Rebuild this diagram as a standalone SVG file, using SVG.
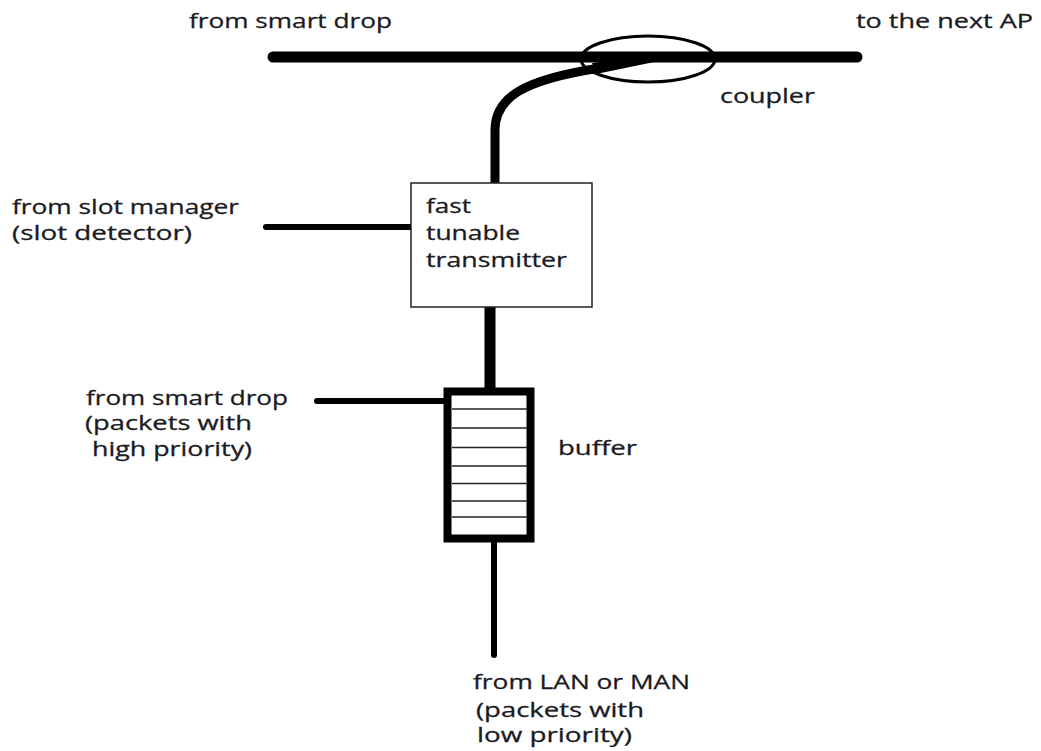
<svg xmlns="http://www.w3.org/2000/svg" width="1041" height="751" viewBox="0 0 1041 751">
  <style>
    .lbl { font-family: "Open Sans", "Noto Sans", "DejaVu Sans", sans-serif; font-size: 20.5px; fill: #1a1a22; stroke: #1a1a22; stroke-width: 0.3; }
    .thick { stroke: #000; fill: none; stroke-linecap: round; }
    .box { fill: #fff; stroke: #222; stroke-width: 1.5; }
    .slot { stroke: #222; stroke-width: 1.6; }
  </style>
  <rect width="1041" height="751" fill="#fff"/>

  <!-- connectors -->
  <g id="connectors">
    <!-- main fibre -->
    <line class="thick" x1="273" y1="57" x2="857" y2="57" stroke-width="11"/>
    <!-- drop fibre from transmitter into the coupler -->
    <path class="thick" d="M495 184 L495 130 C495 98 522 80 600 68" stroke-width="9" stroke-linecap="butt"/>
    <polygon points="592,63 596,74 664,60 664,54" fill="#000"/>
    <!-- slot manager input -->
    <line class="thick" x1="266" y1="227" x2="413" y2="227" stroke-width="6"/>
    <!-- transmitter to buffer -->
    <line class="thick" x1="490" y1="307" x2="490" y2="390" stroke-width="11" stroke-linecap="butt"/>
    <!-- high priority input -->
    <line class="thick" x1="317" y1="401" x2="445" y2="401" stroke-width="6"/>
    <!-- LAN/MAN input -->
    <line class="thick" x1="494" y1="540" x2="494" y2="655" stroke-width="6" stroke-linecap="butt"/>
  </g>

  <g id="coupler">
    <ellipse cx="648" cy="59" rx="67" ry="23" fill="none" stroke="#000" stroke-width="3"/>
    <text class="lbl" x="720" y="103" textLength="95" lengthAdjust="spacingAndGlyphs">coupler</text>
  </g>

  <g id="transmitter">
    <rect class="box" x="411" y="183" width="181" height="124"/>
    <text class="lbl" x="426" y="213" textLength="45" lengthAdjust="spacingAndGlyphs">fast</text>
    <text class="lbl" x="426" y="240" textLength="94" lengthAdjust="spacingAndGlyphs">tunable</text>
    <text class="lbl" x="426" y="267" textLength="141" lengthAdjust="spacingAndGlyphs">transmitter</text>
  </g>

  <g id="buffer">
    <rect x="447.5" y="391.5" width="83" height="147" fill="#fff" stroke="#000" stroke-width="8"/>
    <line class="slot" x1="452" y1="409" x2="527" y2="409"/>
    <line class="slot" x1="452" y1="428" x2="527" y2="428"/>
    <line class="slot" x1="452" y1="447.5" x2="527" y2="447.5"/>
    <line class="slot" x1="452" y1="466" x2="527" y2="466"/>
    <line class="slot" x1="452" y1="483.5" x2="527" y2="483.5"/>
    <line class="slot" x1="452" y1="501" x2="527" y2="501"/>
    <line class="slot" x1="452" y1="517" x2="527" y2="517"/>
    <text class="lbl" x="558" y="455" textLength="79" lengthAdjust="spacingAndGlyphs">buffer</text>
  </g>

  <g id="labels">
    <text class="lbl" x="189" y="28" textLength="203" lengthAdjust="spacingAndGlyphs">from smart drop</text>
    <text class="lbl" x="856" y="28" textLength="177" lengthAdjust="spacingAndGlyphs">to the next AP</text>
    <text class="lbl" x="12" y="214" textLength="227" lengthAdjust="spacingAndGlyphs">from slot manager</text>
    <text class="lbl" x="12" y="240" textLength="180" lengthAdjust="spacingAndGlyphs">(slot detector)</text>
    <text class="lbl" x="86" y="405" textLength="202" lengthAdjust="spacingAndGlyphs">from smart drop</text>
    <text class="lbl" x="85" y="430" textLength="167" lengthAdjust="spacingAndGlyphs">(packets with</text>
    <text class="lbl" x="92" y="456" textLength="160" lengthAdjust="spacingAndGlyphs">high priority)</text>
    <text class="lbl" x="473" y="689" textLength="217" lengthAdjust="spacingAndGlyphs">from LAN or MAN</text>
    <text class="lbl" x="476" y="717" textLength="168" lengthAdjust="spacingAndGlyphs">(packets with</text>
    <text class="lbl" x="477" y="742" textLength="155" lengthAdjust="spacingAndGlyphs">low priority)</text>
  </g>
</svg>
